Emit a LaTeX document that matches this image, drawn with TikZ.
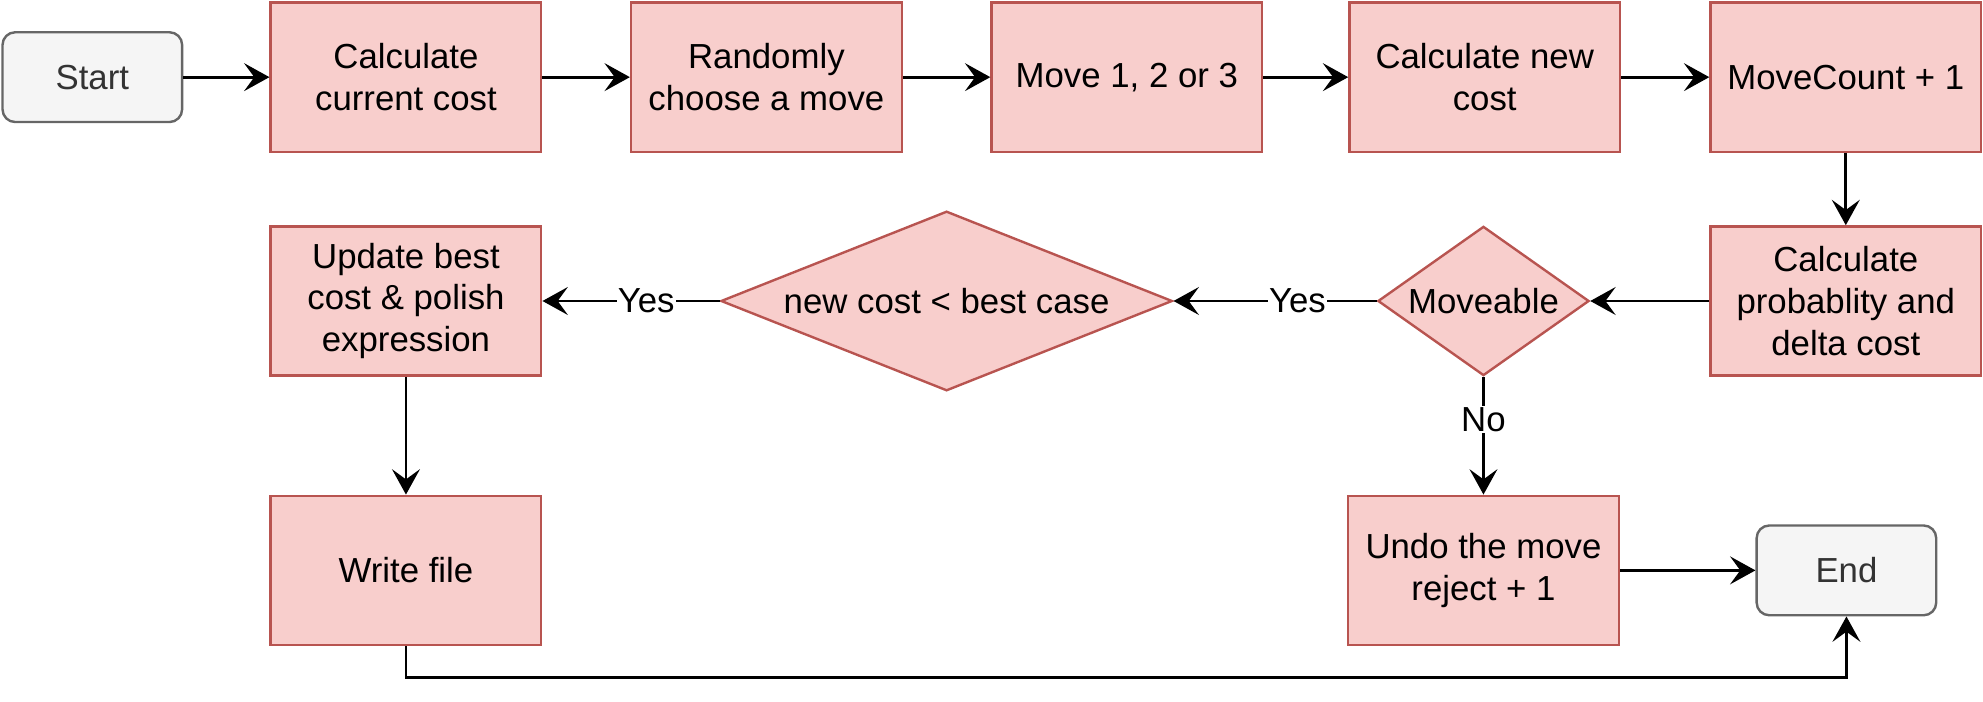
\documentclass[tikz,border=0pt]{standalone}
\usepackage{fontspec}
\setmainfont{Liberation Sans}
\usetikzlibrary{shapes.geometric,arrows.meta}
\definecolor{redfill}{HTML}{F8CECC}
\definecolor{redline}{HTML}{B85450}
\definecolor{grayfill}{HTML}{F5F5F5}
\definecolor{grayline}{HTML}{666666}
\definecolor{graytext}{HTML}{333333}
\tikzset{
  txt/.style={font=\fontsize{27.5}{33}\selectfont, align=center},
  procbox/.style={txt, draw=redline, fill=redfill, line width=1.9pt, inner sep=0pt,
    minimum width=214pt, minimum height=118pt},
  termbox/.style={txt, draw=grayline, fill=grayfill, text=graytext, line width=1.9pt,
    rounded corners=10pt, inner sep=0pt, minimum width=142pt, minimum height=71pt},
  decbox/.style={draw=redline, fill=redfill, line width=1.9pt, diamond, inner sep=0pt},
  conn/.style={line width=2.3pt, -{Stealth[length=20pt,width=22pt,inset=8pt]}},
  lbl/.style={txt, fill=white, inner sep=1pt}
}
\begin{document}
\begin{tikzpicture}[x=1pt,y=-1pt]
\useasboundingbox (0,0) rectangle (1568,555);
\node[termbox] (start) at (73,61) {Start};
\node[procbox] (ccc) at (321,61) {Calculate\\current cost};
\node[procbox] (rcm) at (606,61) {Randomly\\choose a move};
\node[procbox] (mv) at (891,61) {Move 1, 2 or 3};
\node[procbox] (cnc) at (1174,61) {Calculate new\\cost};
\node[procbox] (mc) at (1459.5,61) {MoveCount + 1};
\node[procbox] (prob) at (1459.5,238) {Calculate\\probablity and\\delta cost};
\node[decbox, minimum width=167pt, minimum height=118pt,
  label={[txt]center:Moveable}] (mvb) at (1173,238) {};
\node[decbox, minimum width=357pt, minimum height=142pt,
  label={[txt]center:new cost < best case}] (nc) at (748.5,238) {};
\node[procbox] (upd) at (321,238) {Update best\\cost \& polish\\expression};
\node[procbox] (wf) at (321,451) {Write file};
\node[procbox] (undo) at (1173,451) {Undo the move\\reject + 1};
\node[termbox] (end) at (1460,451) {End};

\draw[conn] (start) -- (ccc);
\draw[conn] (ccc) -- (rcm);
\draw[conn] (rcm) -- (mv);
\draw[conn] (mv) -- (cnc);
\draw[conn] (cnc) -- (mc);
\draw[conn] (mc) -- (prob);
\draw[conn] (prob) -- (mvb);
\draw[conn] (mvb) -- node[lbl, pos=0.39] {Yes} (nc);
\draw[conn] (nc) -- node[lbl, pos=0.415] {Yes} (upd);
\draw[conn] (mvb) -- node[lbl, pos=0.36] {No} (undo);
\draw[conn] (upd) -- (wf);
\draw[conn] (undo) -- (end);
\draw[conn] (wf.south) -- ++(0,24.5) -| (end.south);
\end{tikzpicture}
\end{document}
